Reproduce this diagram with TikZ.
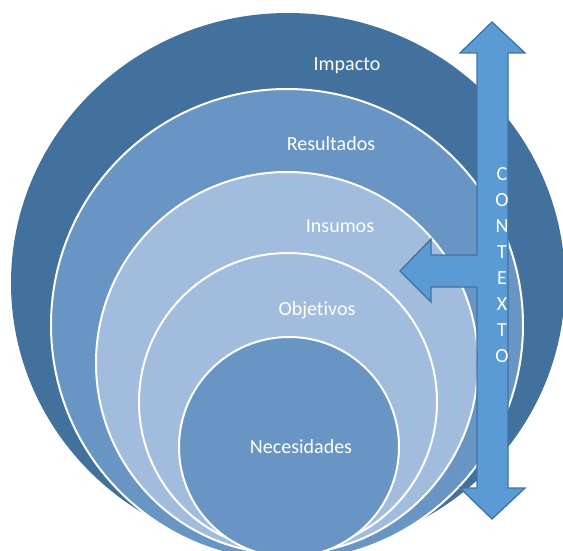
\documentclass[tikz,border=0pt]{standalone}
\usepackage{fontspec}
\setmainfont{Carlito}[Ligatures=NoCommon]
\usepackage{tikz}
\definecolor{impactblue}{RGB}{65,113,156}
\definecolor{midblue}{RGB}{105,149,196}
\definecolor{paleblue}{RGB}{162,188,222}
\definecolor{arrowblue}{RGB}{91,155,213}
\definecolor{arrowedge}{RGB}{65,114,160}

\begin{document}
\begin{tikzpicture}[x=1pt,y=-1pt,
    ring/.style={draw=white,line width=2pt},
    lbl/.style={text=white,anchor=base,inner sep=0pt,font=\fontsize{20}{24}\selectfont}]
      \clip (0,0) rectangle (563,551);

      \fill [impactblue] (288,283) ellipse [x radius=277, y radius=270];
      \draw [ring,fill=midblue] (287,325) circle [radius=236];
      \draw [ring,fill=paleblue] (287,363) circle [radius=191];
      \draw [ring,fill=paleblue] (288,402) circle [radius=149];
      \draw [ring,fill=midblue] (289,447) circle [radius=110];

      \draw (347,71) node[lbl] (impacto) {Impacto};
      \draw (331,150) node[lbl] (resultados) {Resultados};
      \draw (340,232) node[lbl] (insumos) {Insumos};
      \draw (317,315) node[lbl] (objetivos) {Objetivos};
      \draw (301,453) node[lbl] (necesidades) {Necesidades};

      % contexto arrow
      \draw [fill=arrowblue,draw=arrowedge,line width=1.3pt,line join=miter]
        (492,22) -- (525,53) -- (508,53) -- (508,488) -- (525,488)
        -- (492,519) -- (460,488) -- (477,488) -- (477,287) -- (431,287)
        -- (431,302) -- (400,271) -- (431,239) -- (431,255) -- (477,255)
        -- (477,53) -- (460,53) -- cycle;

      \foreach \ch [count=\i] in {C,O,N,T,E,X,T,O}
        \draw (502,{154+26*\i}) node[lbl] (ctx\i) {\ch};

\end{tikzpicture}
\end{document}
